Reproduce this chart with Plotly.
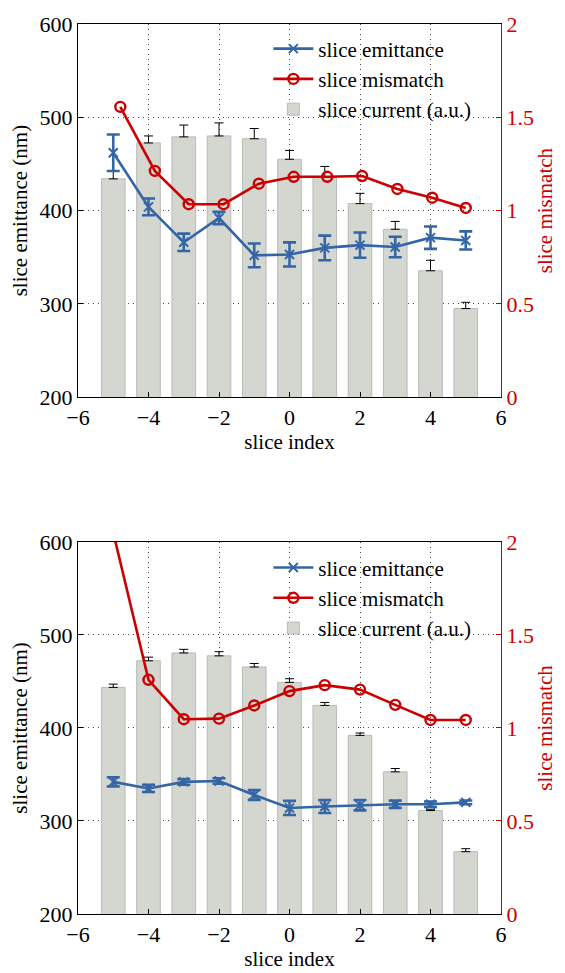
import plotly.graph_objects as go

# slice indices
slices = [-5, -4, -3, -2, -1, 0, 1, 2, 3, 4, 5]

# ---- upper panel ----
emit_a = [462, 404, 366, 392, 352, 353, 360, 363, 361, 371, 368]
emit_a_err = [19.5, 9, 9.3, 6.6, 12.7, 12.9, 13.2, 13.5, 11, 12, 9.7]
mism_a_x = [-4.8, -3.82, -2.86, -1.87, -0.87, 0.12, 1.07, 2.06, 3.06, 4.05, 5.0]
mism_a = [1.556, 1.213, 1.034, 1.034, 1.144, 1.181, 1.181, 1.185, 1.116, 1.069, 1.014]
curr_a = [434, 472.5, 479, 480, 477, 455, 436, 407.5, 380, 335.5, 295]
curr_a_err = [9, 7.5, 12.7, 14, 11, 9.5, 11.3, 11, 8.4, 11.2, 6.7]

# ---- lower panel ----
emit_b = [342, 335, 342, 343, 328, 314, 315.5, 317, 318, 318, 320]
emit_b_err = [5, 3.9, 3, 3, 5.3, 7.6, 6.9, 5.6, 3.9, 3, 2]
mism_b = [2.05, 1.259, 1.047, 1.05, 1.121, 1.198, 1.23, 1.206, 1.124, 1.043, 1.043]
curr_b = [443.6, 472.2, 480.6, 477.5, 465.5, 449, 424.2, 392, 352.8, 311.2, 267]
curr_b_err = [3.5, 3.9, 3.9, 4.5, 3.8, 3.9, 3.2, 2.5, 3.6, 1.4, 3.2]

x_ticks = [-6, -4, -2, 0, 2, 4, 6]
left_ticks = [200, 300, 400, 500, 600]
right_ticks = [0, 0.5, 1, 1.5, 2]
right_labels = ["0", "0.5", "1", "1.5", "2"]

BLUE = "rgb(52,101,164)"
RED = "rgb(204,0,0)"
DARKRED = "rgb(190,0,0)"
BAR = "rgb(212,214,208)"
BAR_EDGE = "rgb(185,187,182)"
FONT = "'Liberation Serif', 'Times New Roman', 'DejaVu Serif', serif"
FS = 22

fig = go.Figure()


def add_panel(xa, ya, ya2, legend, emit, emit_err, mx, mism, curr, curr_err):
    fig.add_trace(go.Bar(
        x=slices, y=curr, width=0.67, name="slice current (a.u.)",
        marker=dict(color=BAR, line=dict(color=BAR_EDGE, width=1)),
        error_y=dict(type="data", array=curr_err, arrayminus=[0] * len(curr),
                     color="black", thickness=1, width=4.5),
        xaxis=xa, yaxis=ya, legend=legend, legendrank=3))
    fig.add_trace(go.Scatter(
        x=slices, y=emit, mode="lines+markers", name="slice emittance",
        line=dict(color=BLUE, width=2.6),
        marker=dict(symbol="x-thin", size=9, line=dict(color=BLUE, width=2)),
        error_y=dict(type="data", array=emit_err, color=BLUE, thickness=2.6, width=6.5),
        xaxis=xa, yaxis=ya, legend=legend, legendrank=1))
    fig.add_trace(go.Scatter(
        x=mx, y=mism, mode="lines+markers", name="slice mismatch",
        line=dict(color=RED, width=2.6),
        marker=dict(symbol="circle-open", size=10, color=RED, line=dict(color=RED, width=2.4)),
        cliponaxis=True,
        xaxis=xa, yaxis=ya2, legend=legend, legendrank=2))


add_panel("x", "y", "y2", "legend", emit_a, emit_a_err, mism_a_x, mism_a, curr_a, curr_a_err)
add_panel("x2", "y3", "y4", "legend2", emit_b, emit_b_err, slices, mism_b, curr_b, curr_b_err)

tick_font = dict(family=FONT, size=FS, color="black")
title_font = dict(family=FONT, size=21, color="black")
GRID = dict(showgrid=True, gridcolor="rgb(70,70,70)", griddash="1px,4px", gridwidth=1)

xcommon = dict(range=[-6, 6], tickvals=x_ticks, ticks="inside", ticklen=5,
               tickcolor="black", showline=True, linecolor="black", linewidth=1.3,
               mirror=True, zeroline=False, tickfont=tick_font, **GRID,
               title=dict(text="slice index", font=title_font, standoff=0))
ycommon = dict(range=[200, 600], tickvals=left_ticks, ticks="inside", ticklen=5,
               tickcolor="black", showline=True, linecolor="black", linewidth=1.3,
               zeroline=False, tickfont=tick_font, **GRID,
               title=dict(text="slice emittance (nm)", font=title_font, standoff=6))
y2common = dict(range=[0, 2], tickvals=right_ticks, ticktext=right_labels,
                side="right", ticks="inside", ticklen=5, tickcolor=DARKRED,
                showline=True, linecolor=DARKRED, linewidth=1.3, showgrid=False,
                zeroline=False, tickfont=dict(family=FONT, size=FS, color=RED),
                title=dict(text="slice mismatch", font=dict(family=FONT, size=21, color=RED),
                           standoff=4))

legend_common = dict(bgcolor="rgba(255,255,255,0)", borderwidth=0,
                     font=dict(family=FONT, size=21, color="black"),
                     xanchor="left", yanchor="top", tracegroupgap=0,
                     itemwidth=40)

fig.update_layout(
    width=565, height=973,
    margin=dict(l=78, r=59, t=17, b=52),
    paper_bgcolor="white", plot_bgcolor="white",
    barmode="overlay",
    xaxis=dict(**xcommon, domain=[0, 1], anchor="y"),
    yaxis=dict(**ycommon, domain=[0.5807, 1], anchor="x"),
    yaxis2=dict(**y2common, overlaying="y", anchor="x"),
    xaxis2=dict(**xcommon, domain=[0, 1], anchor="y3"),
    yaxis3=dict(**ycommon, domain=[0, 0.4181], anchor="x2"),
    yaxis4=dict(**y2common, overlaying="y3", anchor="x2"),
    legend=dict(**legend_common, x=0.45, y=0.995),
    legend2=dict(**legend_common, x=0.45, y=0.412),
    showlegend=True,
)

fig.write_html("out.html")
